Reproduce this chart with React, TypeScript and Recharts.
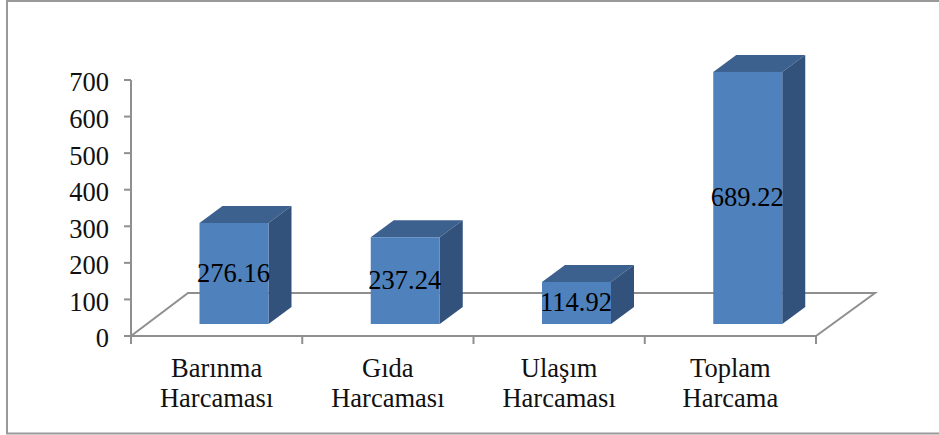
import * as React from 'react';
import { Bar, BarChart, LabelList, XAxis, YAxis } from 'recharts';

const categories = ['Barınma Harcaması', 'Gıda Harcaması', 'Ulaşım Harcaması', 'Toplam Harcama'];
const values = [276.16, 237.24, 114.92, 689.22];
const yTicks = [0, 100, 200, 300, 400, 500, 600, 700];

const data = categories.map((name, i) => ({ name, value: values[i] }));

const FONT = '"Liberation Serif", "Times New Roman", serif';
const AXIS = '#8f8f8f';
// fake 3d: bars sit a bit forward on the floor
const DX = 17.5;
const DY = -12;
const DEPTH_X = 23;
const DEPTH_Y = -17;

function Bar3D(props: any) {
  const x = props.x + DX;
  const y = props.y + DY;
  const { width: w, height: h } = props;
  return (
    <g>
      <path
        d={`M${x},${y} l${DEPTH_X},${DEPTH_Y} h${w} l${-DEPTH_X},${-DEPTH_Y} z`}
        fill="#3c618f"
      />
      <path
        d={`M${x + w},${y} l${DEPTH_X},${DEPTH_Y} v${h} l${-DEPTH_X},${-DEPTH_Y} z`}
        fill="#32527b"
      />
      <rect x={x} y={y} width={w} height={h} fill="#4f81bd" />
    </g>
  );
}

function ValueLabel(props: any) {
  return (
    <text
      x={props.x + DX + props.width / 2 - 0.5}
      y={props.y + DY + props.height / 2 - 1}
      textAnchor="middle"
      dominantBaseline="central"
      fontFamily={FONT}
      fontSize={26.5}
      fill="#000"
    >
      {props.value}
    </text>
  );
}

// ticks go between the categories, not under them
function CategoryTick(props: any) {
  const words = String(props.payload.value).split(' ');
  const half = props.width / categories.length / 2;
  const isLast = props.index === categories.length - 1;
  const top = props.y - 8;
  return (
    <g>
      <line x1={props.x - half} x2={props.x - half} y1={top} y2={top + 8} stroke={AXIS} strokeWidth={2} />
      {isLast && (
        <line x1={props.x + half} x2={props.x + half} y1={top} y2={top + 8} stroke={AXIS} strokeWidth={2} />
      )}
      <text x={props.x} y={377} textAnchor="middle" fontFamily={FONT} fontSize={26.5} fill="#111">
        {words.map((w, i) => (
          <tspan key={w} x={props.x} dy={i === 0 ? 0 : 30}>
            {w}
          </tspan>
        ))}
      </text>
    </g>
  );
}

function ValueTick(props: any) {
  return (
    <text x={props.x} y={props.y + 2} dy="0.355em" textAnchor="end" fontFamily={FONT} fontSize={26.5} fill="#111">
      {props.payload.value}
    </text>
  );
}

export default function App() {
  return (
    <div style={{ position: 'absolute', left: 0, top: 0, width: 939, height: 435, background: '#fff' }}>
      <BarChart
        width={939}
        height={435}
        data={data}
        barSize={69}
        margin={{ left: 0, right: 123, top: 80, bottom: 0 }}
      >
        <path d="M939,1 H7 V433.5 H939" fill="none" stroke="#999" strokeWidth={2} />
        <path d="M131,336 L188,293 H875 L816,336" fill="none" stroke={AXIS} strokeWidth={2} />
        <XAxis
          dataKey="name"
          interval={0}
          axisLine={{ stroke: AXIS, strokeWidth: 2 }}
          tickLine={false}
          tickSize={0}
          tickMargin={8}
          tick={<CategoryTick />}
          height={99}
        />
        <YAxis
          domain={[0, 700]}
          ticks={yTicks}
          interval={0}
          width={131}
          axisLine={{ stroke: AXIS, strokeWidth: 2 }}
          tickLine={{ stroke: AXIS, strokeWidth: 2 }}
          tickSize={7}
          tickMargin={15}
          tick={<ValueTick />}
        />
        <Bar dataKey="value" isAnimationActive={false} shape={<Bar3D />}>
          <LabelList dataKey="value" content={<ValueLabel />} />
        </Bar>
      </BarChart>
    </div>
  );
}
